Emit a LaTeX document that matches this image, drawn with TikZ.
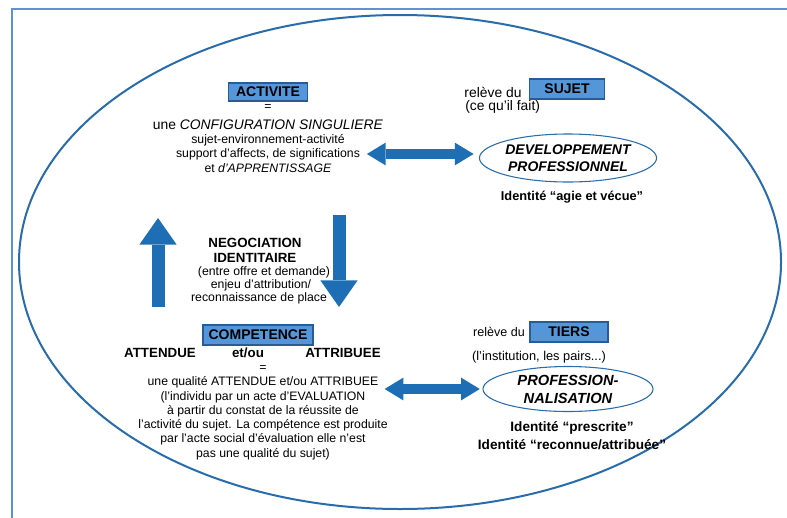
\documentclass[tikz,border=0pt]{standalone}
\usepackage{fontspec}
\setmainfont{Liberation Sans}
\usetikzlibrary{shapes,positioning,arrows.meta}
\definecolor{boxblue}{RGB}{84,150,215}
\definecolor{boxline}{RGB}{40,92,150}
\definecolor{arrowblue}{RGB}{30,110,182}
\definecolor{ringblue}{RGB}{40,108,172}
\definecolor{frameblue}{RGB}{95,145,212}
\tikzset{
	titlebox/.style={draw=boxline,fill=boxblue,line width=0.9pt,inner sep=0pt,font=\fontsize{10.5}{12}\selectfont\bfseries},
	idring/.style={ellipse,draw=ringblue,line width=0.8pt,minimum width=127.5pt,inner sep=0pt,align=center},
	txt/.style={inner sep=0pt,font=\fontsize{9.2}{11}\selectfont},
	bigtxt/.style={inner sep=0pt,font=\fontsize{10.4}{12}\selectfont},
	boldtxt/.style={inner sep=0pt,font=\fontsize{10}{12}\selectfont\bfseries},
	flatarrow/.style={arrowblue,line width=7.5pt,{Triangle[width=17pt,length=14pt,line width=0pt]}-{Triangle[width=17pt,length=14pt,line width=0pt]}},
	uparrow/.style={arrowblue,line width=9.75pt,-{Triangle[width=28pt,length=20pt,line width=0pt]}}
}
\begin{document}
\begin{tikzpicture}[x=0.75pt,y=-0.75pt]
				\useasboundingbox (0,0) rectangle (787,517);
				\draw[frameblue,line width=1.1pt] (12,9) rectangle (800,530);
				\draw[ringblue,line width=1.5pt] (400,262) ellipse [x radius=285.75pt,y radius=185.25pt];
				% activite
				\node[titlebox,minimum width=59pt,minimum height=13.5pt] (act) at (268,92) {ACTIVITE};
				\node[txt] (actEq) at (268,107) {=};
				\node[bigtxt] (actA) at (268,125) {une \textit{CONFIGURATION SINGULIERE}};
				\node[txt] (actB) at (268,140) {sujet-environnement-activité};
				\node[txt] (actC) at (268,154) {support d'affects, de significations};
				\node[txt] (actD) at (268,168) {et \textit{d'APPRENTISSAGE}};
				% sujet
				\node[bigtxt] (relSujet) at (493,92) {relève du};
				\node[titlebox,minimum width=56pt,minimum height=15pt] (sujet) at (567,89) {SUJET};
				\node[bigtxt,anchor=west] (ceQu) at (465,107) {(ce qu'il fait)};
				\node[idring,minimum height=36pt,font=\fontsize{10.5}{12.75}\selectfont\bfseries\itshape] (dev) at (568,158) {DEVELOPPEMENT\\PROFESSIONNEL};
				\node[boldtxt,font=\fontsize{9.6}{12}\selectfont\bfseries] (idAgie) at (572,197) {Identité “agie et vécue”};
				% negociation
				\node[boldtxt] (negA) at (255,243) {NEGOCIATION};
				\node[boldtxt] (negB) at (255,258) {IDENTITAIRE};
				\node[txt] (negC) at (264,272) {(entre offre et demande)};
				\node[txt] (negD) at (261,285) {enjeu d'attribution/};
				\node[txt] (negE) at (259,298) {reconnaissance de place};
				\coordinate (upFoot) at (158,307);
				\coordinate (upHead) at (158,218);
				\coordinate (downFoot) at (339,215);
				\coordinate (downHead) at (339,307);
				\draw[uparrow] (upFoot) -- (upHead);
				\draw[uparrow] (downFoot) -- (downHead);
				% competence
				\node[titlebox,minimum width=82.5pt,minimum height=15pt] (comp) at (258,335) {COMPETENCE};
				\node[boldtxt] (attendue) at (160,353) {ATTENDUE};
				\node[boldtxt] (etou) at (248,353) {et/ou};
				\node[boldtxt] (attribuee) at (343,353) {ATTRIBUEE};
				\node[txt] (compEq) at (263,368) {=};
				\node[txt] (compA) at (263,382) {une qualité ATTENDUE et/ou ATTRIBUEE};
				\node[txt] (compB) at (263,397) {(l'individu par un acte d'EVALUATION};
				\node[txt] (compC) at (263,411) {à partir du constat de la réussite de};
				\node[txt] (compD) at (263,425) {l'activité du sujet. La compétence est produite};
				\node[txt] (compE) at (263,439) {par l'acte social d'évaluation elle n'est};
				\node[txt] (compF) at (263,454) {pas une qualité du sujet)};
				% tiers
				\node[txt,font=\fontsize{9.4}{11}\selectfont] (relTiers) at (499,332) {relève du};
				\node[titlebox,minimum width=58.5pt,minimum height=15pt] (tiers) at (569,332) {TIERS};
				\node[txt,font=\fontsize{9.6}{11}\selectfont] (inst) at (539,357) {(l'institution, les pairs...)};
				\node[idring,minimum height=33.75pt,font=\fontsize{11}{13.5}\selectfont\bfseries\itshape] (prof) at (568,389) {PROFESSION-\\NALISATION};
				\node[boldtxt,font=\fontsize{10.2}{12}\selectfont\bfseries] (idPres) at (572,428) {Identité “prescrite”};
				\node[boldtxt,font=\fontsize{10.2}{12}\selectfont\bfseries] (idRec) at (572,445) {Identité “reconnue/attribuée”};
				% liens
				\draw[flatarrow] ([xshift=5pt]actC.east) -- ([xshift=-4pt]dev.west |- actC.east);
				\draw[flatarrow] ([xshift=4.5pt]prof.west -| compA.east) -- ([xshift=-2pt]prof.west);
\end{tikzpicture}
\end{document}
